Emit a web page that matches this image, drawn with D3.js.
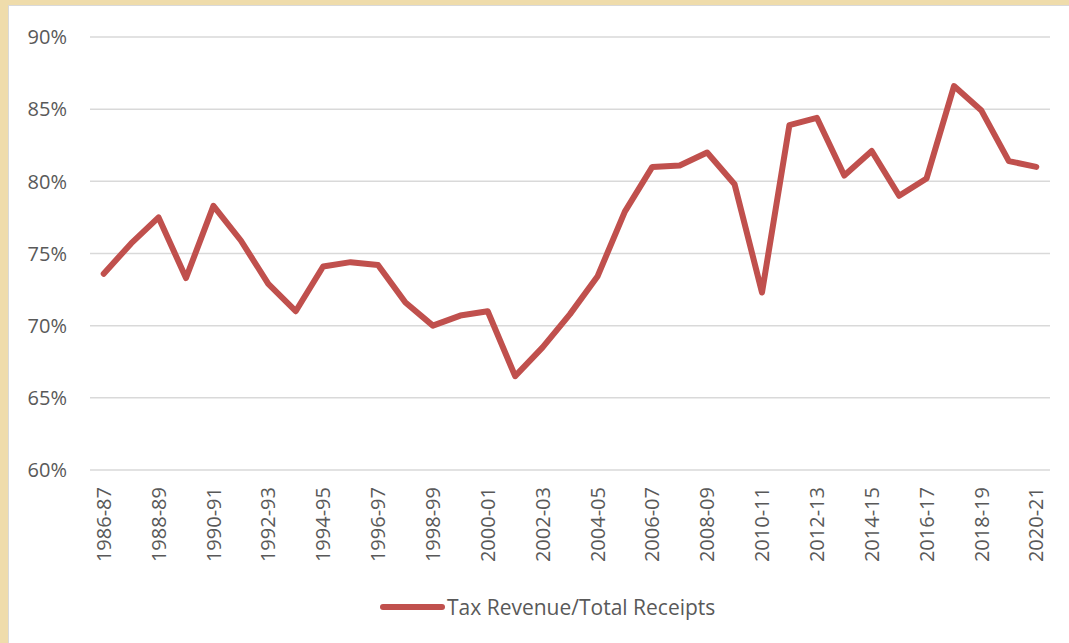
<!DOCTYPE html>
<html lang="en">
<head>
<meta charset="UTF-8">
<title>Tax Revenue / Total Receipts</title>
<script src="https://d3js.org/d3.v7.min.js"></script>
<style>
  body { margin: 0; background: #efdcab; }
  svg text { font-family: "Open Sans", sans-serif; fill: #595959; }
</style>
</head>
<body>
<svg width="1069" height="643"></svg>
<script>
    var years = ["1986-87","1987-88","1988-89","1989-90","1990-91","1991-92","1992-93","1993-94",
        "1994-95","1995-96","1996-97","1997-98","1998-99","1999-00","2000-01","2001-02","2002-03",
        "2003-04","2004-05","2005-06","2006-07","2007-08","2008-09","2009-10","2010-11","2011-12",
        "2012-13","2013-14","2014-15","2015-16","2016-17","2017-18","2018-19","2019-20","2020-21"];
    var ratio = [73.6,75.7,77.5,73.3,78.3,75.9,72.9,71.0,74.1,74.4,74.2,71.6,70.0,70.7,71.0,66.5,
        68.5,70.8,73.4,77.9,81.0,81.1,82.0,79.8,72.3,83.9,84.4,80.4,82.1,79.0,80.2,86.6,84.9,81.4,81.0];
    var yTicks = [60,65,70,75,80,85,90];
    var seriesName = "Tax Revenue/Total Receipts";

    var svg = d3.select("svg"),
        margin = {top: 37, right: 19, bottom: 173, left: 90},
        width = +svg.attr("width") - margin.left - margin.right,
        height = +svg.attr("height") - margin.top - margin.bottom;

    // paper-ish frame + white chart area
    svg.append("rect").attr("width", 1069).attr("height", 643).attr("fill", "#efdcab");
    svg.append("rect")
        .attr("x", 8.5).attr("y", 5.5).attr("width", 1069).attr("height", 643)
        .attr("fill", "#fff").attr("stroke", "#d9d9d9");

    var g = svg.append("g")
        .attr("transform", "translate(" + margin.left + "," + margin.top + ")");

    var x = d3.scalePoint().domain(years).range([0, width]).padding(0.5);
    var y = d3.scaleLinear().domain([60, 90]).range([height, 0]);

    // grid
    g.selectAll(".grid").data(yTicks).enter().append("line")
        .attr("x1", 0).attr("x2", width)
        .attr("y1", function(d) { return y(d); })
        .attr("y2", function(d) { return y(d); })
        .attr("stroke", "#d9d9d9").attr("stroke-width", 1.5);

    // y labels
    g.selectAll(".ylab").data(yTicks).enter().append("text")
        .attr("x", -23).attr("y", function(d) { return y(d); })
        .attr("dy", "0.36em").attr("text-anchor", "end")
        .style("font-size", "20px")
        .text(function(d) { return d + "%"; });

    // x labels, every other year
    g.selectAll(".xlab").data(years.filter(function(d, i) { return i % 2 === 0; }))
        .enter().append("text")
        .attr("transform", function(d) {
            return "translate(" + x(d) + "," + (height + 17) + ") rotate(-90)";
        })
        .attr("dy", "0.36em").attr("text-anchor", "end")
        .style("font-size", "20px")
        .text(function(d) { return d; });

    var line = d3.line()
        .x(function(d, i) { return x(years[i]); })
        .y(function(d) { return y(d); });

    g.append("path").datum(ratio)
        .attr("d", line)
        .attr("fill", "none")
        .attr("stroke", "#c0504d")
        .attr("stroke-width", 6)
        .attr("stroke-linejoin", "round")
        .attr("stroke-linecap", "round");

    // legend
    var lg = svg.append("g").attr("transform", "translate(383,607)");
    lg.append("line").attr("x1", 0).attr("x2", 59).attr("y1", 0).attr("y2", 0)
        .attr("stroke", "#c0504d").attr("stroke-width", 6).attr("stroke-linecap", "round");
    lg.append("text").attr("x", 64).attr("dy", "0.36em")
        .style("font-size", "21px")
        .text(seriesName);
</script>
</body>
</html>
